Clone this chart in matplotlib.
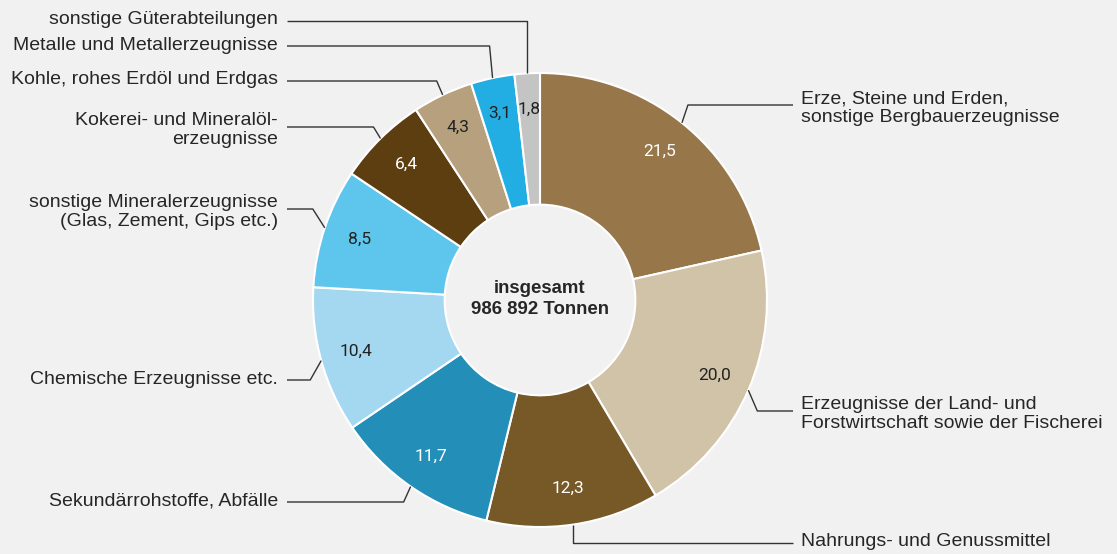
import numpy as np
import matplotlib.pyplot as plt

# shares in percent, clockwise from 12 o'clock
categories = [
    "Erze, Steine und Erden,\nsonstige Bergbauerzeugnisse",
    "Erzeugnisse der Land- und\nForstwirtschaft sowie der Fischerei",
    "Nahrungs- und Genussmittel",
    "Sekundärrohstoffe, Abfälle",
    "Chemische Erzeugnisse etc.",
    "sonstige Mineralerzeugnisse\n(Glas, Zement, Gips etc.)",
    "Kokerei- und Mineralöl-\nerzeugnisse",
    "Kohle, rohes Erdöl und Erdgas",
    "Metalle und Metallerzeugnisse",
    "sonstige Güterabteilungen",
]
shares = [21.5, 20.0, 12.3, 11.7, 10.4, 8.5, 6.4, 4.3, 3.1, 1.8]
total_text = "insgesamt\n986 892 Tonnen"

colors = ["#97764a", "#d1c3a8", "#775827", "#238fb8", "#a4d8f0",
          "#5ec6ec", "#5d3e11", "#b7a07e", "#23aee3", "#c4c4c4"]
value_colors = ["white", "#222222", "white", "white", "#222222",
                "#222222", "white", "#222222", "#222222", "#222222"]

# layout of leader lines (pixel rows from top, elbow shift)
label_rows = [105, 411, 543, 502, 380, 209, 127, 81, 46, 21]
elbow_dx = [6, 9, 0, -7, -11, -12, -7, -6, -3, 0]

W, H = 1117, 554
cx, cy, R = 540, H - 300, 227
bg = "#f1f1f1"
txt = "#262626"
FONT = "Liberation Sans"

fig = plt.figure(figsize=(W / 100, H / 100), dpi=100, facecolor=bg)
ax = fig.add_axes([0, 0, 1, 1])
ax.set_facecolor(bg)

wedges, _ = ax.pie(shares, colors=colors, startangle=90, counterclock=False,
                   center=(cx, cy), radius=R,
                   wedgeprops=dict(width=R * 0.58, edgecolor="white", linewidth=1.5))
ax.set_xlim(0, W)
ax.set_ylim(0, H)
ax.set_aspect("equal")
ax.axis("off")

for i, w in enumerate(wedges):
    mid = np.deg2rad((w.theta1 + w.theta2) / 2)
    # value inside the ring
    r_lab = R * 0.84
    ax.text(cx + r_lab * np.cos(mid), cy + r_lab * np.sin(mid),
            f"{shares[i]:.1f}".replace(".", ","), ha="center", va="center",
            fontsize=12.5, color=value_colors[i], family="Roboto")
    # leader line
    x0, y0 = cx + R * np.cos(mid), cy + R * np.sin(mid)
    ly = H - label_rows[i]
    right = np.cos(mid) > 0.05 or i == 2
    xe = x0 + elbow_dx[i]
    xend = 793 if right else 287
    ax.plot([x0, xe, xend], [y0, ly, ly], color="#333333", lw=1,
            solid_capstyle="butt")
    two = "\n" in categories[i]
    ty = ly - 3 if two else ly + 1
    if right:
        ax.text(801, ty, categories[i], ha="left", va="center", fontsize=14,
                color=txt, family=FONT, linespacing=1.1)
    else:
        ax.text(278, ty, categories[i], ha="right", va="center", fontsize=14,
                color=txt, family=FONT, linespacing=1.1, multialignment="right")

ax.text(cx, cy + 1, total_text, ha="center", va="center", fontsize=13.4,
        fontweight="bold", color=txt, family=FONT, linespacing=1.3)

fig.savefig("out.png", dpi=100, facecolor=bg)
